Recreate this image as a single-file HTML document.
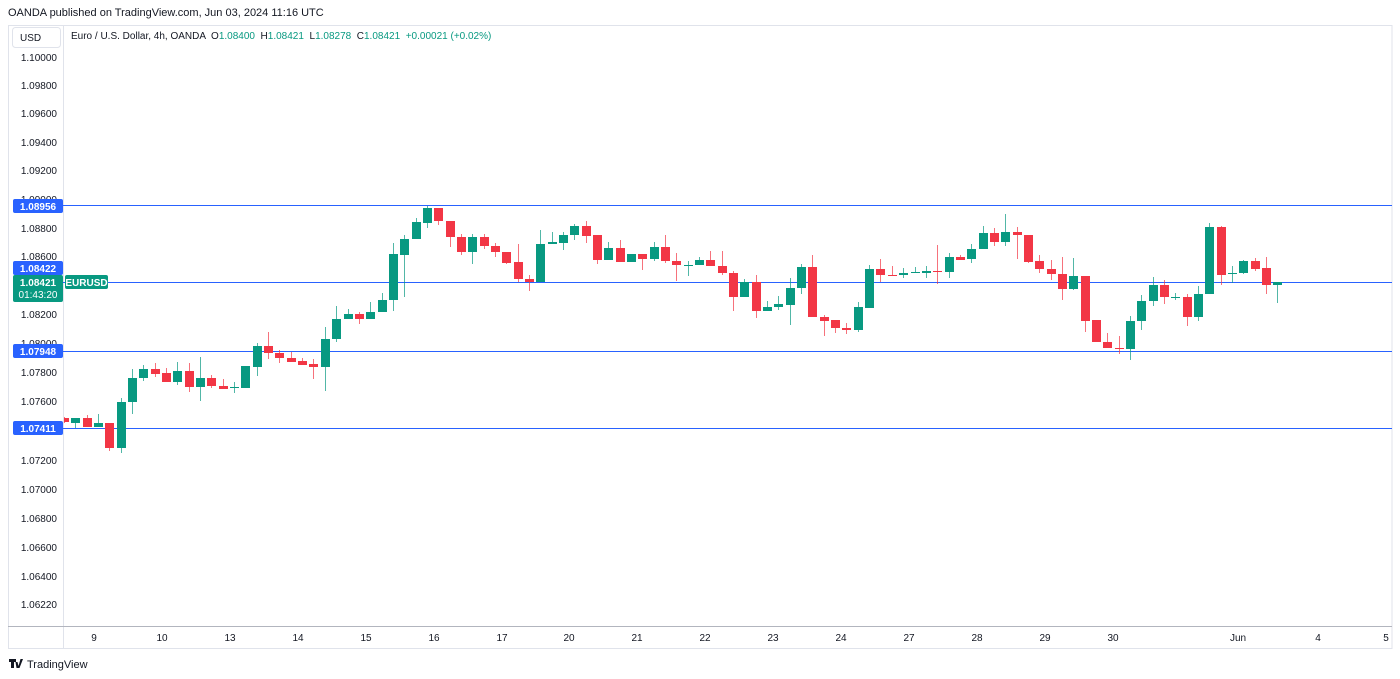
<!DOCTYPE html>
<html><head><meta charset="utf-8"><style>
body{margin:0;background:#fff;width:1400px;height:679px;overflow:hidden;font-family:"Liberation Sans",sans-serif;}
</style></head><body>
<svg id="s" width="1400" height="679" xmlns="http://www.w3.org/2000/svg" style="position:absolute;left:0;top:0">
<text x="8" y="16" font-size="11" fill="#131722">OANDA published on TradingView.com, Jun 03, 2024 11:16 UTC</text>
<rect x="8.5" y="25.5" width="1383.5" height="623" fill="none" stroke="#e0e3eb"/>
<line x1="63.5" y1="25" x2="63.5" y2="649" stroke="#e0e3eb"/>
<line x1="8" y1="626.5" x2="1392" y2="626.5" stroke="#b2b5be"/>
<rect x="12.5" y="27.5" width="48" height="20" rx="3" fill="#fff" stroke="#e0e3eb"/>
<text x="20" y="41" font-size="10" fill="#131722">USD</text>
<text x="71" y="39" font-size="10" fill="#131722" xml:space="preserve">Euro / U.S. Dollar, 4h, OANDA  O<tspan fill="#089981">1.08400</tspan>  H<tspan fill="#089981">1.08421</tspan>  L<tspan fill="#089981">1.08278</tspan>  C<tspan fill="#089981">1.08421</tspan>  <tspan fill="#089981">+0.00021 (+0.02%)</tspan></text>
<g id="g"></g>
<g font-size="10" fill="#131722" text-anchor="middle">
<text x="94" y="641">9</text><text x="162" y="641">10</text><text x="230" y="641">13</text><text x="298" y="641">14</text><text x="366" y="641">15</text><text x="434" y="641">16</text><text x="502" y="641">17</text><text x="569" y="641">20</text><text x="637" y="641">21</text><text x="705" y="641">22</text><text x="773" y="641">23</text><text x="841" y="641">24</text><text x="909" y="641">27</text><text x="977" y="641">28</text><text x="1045" y="641">29</text><text x="1113" y="641">30</text><text x="1238" y="641">Jun</text><text x="1318" y="641">4</text><text x="1386" y="641">5</text>
</g>
<g transform="translate(9,659)"><path d="M0 0h7v3H5v6H2V3H0z M6.5 3h2l1 4 2-7h2.5l-3.5 9h-3z" fill="#131722"/></g>
<text x="27" y="668" font-size="11" fill="#131722">TradingView</text>
</svg>
<script>
var d=[
['r',418,422,417,423],['g',418,423,418,428],['r',418,427,415,427],['g',423,427,414,427],['r',423,448,423,451],['g',402,448,398,453],['g',378,402,369,414],['g',369,378,365,381],['r',369,374,363,377],['r',373,382,368,382],['g',371,382,362,385],['r',371,387,363,392],['g',378,387,357,401],['r',378,386,375,388],['r',386,389,379,389],['g',387,388,382,393],['g',366,388,366,388],['g',346,367,343,376],['r',346,353,332,359],['r',353,358,350,363],['r',358,362,352,362],['r',361,365,358,365],['r',364,367,359,379],['g',339,367,327,391],['g',319,339,306,342],['g',314,319,309,319],['r',314,319,312,324],['g',312,319,302,319],['g',300,312,293,312],['g',254,300,243,311],
['g',239,255,235,297],['g',222,239,218,239],['g',208,223,206,228],['r',208,221,208,225],['r',221,237,221,247],['r',237,252,234,255],['g',237,252,234,264],['r',237,246,234,249],['r',246,252,243,257],['r',252,263,252,264],['r',262,279,244,282],['r',279,282,275,291],['g',244,282,230,282],['g',242,244,232,244],['g',235,243,232,250],['g',226,235,224,240],['r',226,236,221,243],['r',235,260,235,264],['g',248,260,242,260],['r',248,262,240,262],['g',254,262,254,262],['r',254,259,254,270],['g',247,259,242,261],['r',247,261,235,263],['r',261,265,253,281],['g',265,266,261,276],['g',260,265,257,265],['r',260,266,251,266],['r',266,273,251,275],['r',273,297,271,311],
['g',282,297,279,297],['r',282,311,275,318],['g',307,311,301,311],['g',304,307,296,310],['g',288,305,278,325],['g',267,288,264,294],['r',267,317,255,317],['r',317,321,315,336],['r',320,328,320,333],['r',328,330,323,334],['g',307,330,302,332],['g',269,308,265,308],['r',269,275,259,282],['r',275,276,266,276],['g',273,275,268,278],['g',272,273,267,273],['g',271,273,266,278],['r',271,272,245,284],['g',257,272,253,278],['r',257,260,255,260],['g',249,259,244,263],['g',233,249,226,249],['r',233,242,228,246],['g',232,242,214,246],['r',232,235,227,259],['r',235,262,235,263],['r',261,269,255,273],['r',269,274,260,280],
['r',274,289,257,300],['g',276,289,258,290],['r',276,321,276,332],['r',320,342,320,342],['r',342,348,333,348],['r',348,349,336,354],['g',321,349,316,360],['g',301,321,295,330],['g',285,301,277,306],['r',285,297,280,304],['g',297,298,293,300],['r',297,317,294,326],['g',294,317,286,321],['g',227,294,223,294],['r',227,275,226,285],['g',273,274,266,283],['g',261,273,260,274],['r',261,269,258,271],['r',268,285,257,294],['g',282,285,282,303]
];
var h='';
// horizontal level lines
[205,282,351,428].forEach(function(y){h+='<line x1="63" y1="'+(y+.5)+'" x2="1392" y2="'+(y+.5)+'" stroke="#2962ff" stroke-width="1"/>';});
for(var i=0;i<d.length;i++){var c=d[i],x=Math.round(64+i*11.34);var col=c[0]=='g'?'#089981':'#f23645';
h+='<line x1="'+(x+.5)+'" y1="'+c[3]+'" x2="'+(x+.5)+'" y2="'+c[4]+'" stroke="'+col+'" stroke-opacity=".7"/>';
var bh=Math.max(1,c[2]-c[1]);var bx=x-4;if(bx<64){bh=bh;}
h+='<rect x="'+Math.max(64,bx)+'" y="'+c[1]+'" width="'+(bx<64?x+5-64:9)+'" height="'+bh+'" fill="'+col+'"/>';}
// y axis labels
var labs=[[57,'1.10000'],[85,'1.09800'],[113,'1.09600'],[142,'1.09400'],[170,'1.09200'],[199,'1.09000'],[228,'1.08800'],[256,'1.08600'],[314,'1.08200'],[343,'1.08000'],[372,'1.07800'],[401,'1.07600'],[460,'1.07200'],[489,'1.07000'],[518,'1.06800'],[547,'1.06600'],[576,'1.06400'],[604,'1.06220']];
labs.forEach(function(l){h+='<text x="57" y="'+(l[0]+4)+'" font-size="10" fill="#131722" text-anchor="end">'+l[1]+'</text>';});
[[206,'1.08956'],[268,'1.08422'],[351,'1.07948'],[428,'1.07411']].forEach(function(l){
h+='<rect x="13" y="'+(l[0]-7)+'" width="50" height="14" rx="2" fill="#2962ff"/><text x="38" y="'+(l[0]+4)+'" font-size="10" fill="#fff" text-anchor="middle" font-weight="bold">'+l[1]+'</text>';});
h+='<rect x="13" y="275" width="50" height="27" rx="2" fill="#089981"/><text x="38" y="286" font-size="10" fill="#fff" text-anchor="middle" font-weight="bold">1.08421</text><text x="38" y="298" font-size="10" fill="#fff" text-anchor="middle">01:43:20</text>';
h+='<rect x="65" y="275" width="43" height="14" rx="2" fill="#089981"/><text x="86.5" y="286" font-size="10" fill="#fff" text-anchor="middle" font-weight="bold">EURUSD</text>';
document.getElementById('g').innerHTML=h;
</script>
</body></html>
